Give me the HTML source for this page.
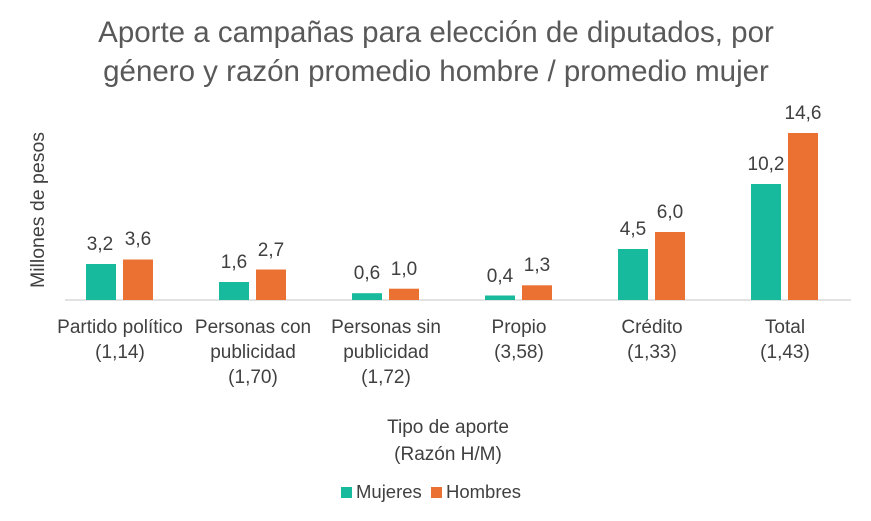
<!DOCTYPE html>
<html><head><meta charset="utf-8"><style>
body{margin:0;background:#fff}
svg text{font-family:"Liberation Sans",sans-serif;fill:#404040}
</style></head><body>
<svg width="871" height="516" xmlns="http://www.w3.org/2000/svg">
<text x="436" y="42" font-size="29.5" text-anchor="middle" style="fill:#595959">Aporte a campañas para elección de diputados, por</text>
<text x="436" y="81" font-size="29.5" text-anchor="middle" style="fill:#595959">género y razón promedio hombre / promedio mujer</text>
<text transform="translate(44,210) rotate(-90)" font-size="19.5" text-anchor="middle">Millones de pesos</text>
<line x1="65" y1="300" x2="851" y2="300" stroke="#d9d9d9" stroke-width="1.5"/>
<g font-size="19" text-anchor="middle">
<rect x="86" y="264" width="30" height="36" fill="#17BA9C"/><rect x="123" y="259.5" width="30" height="40.5" fill="#EB7132"/>
<text x="100" y="250">3,2</text><text x="138" y="245">3,6</text>
<rect x="219" y="282" width="30" height="18" fill="#17BA9C"/><rect x="256" y="269.5" width="30" height="30.5" fill="#EB7132"/>
<text x="234" y="268">1,6</text><text x="271" y="256">2,7</text>
<rect x="352" y="293.2" width="30" height="6.8" fill="#17BA9C"/><rect x="389" y="288.7" width="30" height="11.3" fill="#EB7132"/>
<text x="367" y="279">0,6</text><text x="404" y="275">1,0</text>
<rect x="485" y="295.5" width="30" height="4.5" fill="#17BA9C"/><rect x="522" y="285.3" width="30" height="14.7" fill="#EB7132"/>
<text x="500" y="282">0,4</text><text x="537" y="271">1,3</text>
<rect x="618" y="249" width="30" height="51" fill="#17BA9C"/><rect x="655" y="232" width="30" height="68" fill="#EB7132"/>
<text x="633" y="235">4,5</text><text x="670" y="218">6,0</text>
<rect x="751" y="184" width="30" height="116" fill="#17BA9C"/><rect x="788" y="133" width="30" height="167" fill="#EB7132"/>
<text x="766" y="170">10,2</text><text x="803" y="119">14,6</text>
</g>
<g font-size="19" text-anchor="middle">
<text x="120" y="333">Partido político</text><text x="120" y="358">(1,14)</text>
<text x="253" y="333">Personas con</text><text x="253" y="358">publicidad</text><text x="253" y="383">(1,70)</text>
<text x="386" y="333">Personas sin</text><text x="386" y="358">publicidad</text><text x="386" y="383">(1,72)</text>
<text x="519" y="333">Propio</text><text x="519" y="358">(3,58)</text>
<text x="652" y="333">Crédito</text><text x="652" y="358">(1,33)</text>
<text x="785" y="333">Total</text><text x="785" y="358">(1,43)</text>
<text x="448" y="433">Tipo de aporte</text><text x="448" y="460">(Razón H/M)</text>
</g>
<rect x="341" y="487" width="11" height="11" fill="#17BA9C"/>
<text x="356" y="498" font-size="18.5">Mujeres</text>
<rect x="431" y="487" width="11" height="11" fill="#EB7132"/>
<text x="446" y="498" font-size="18.5">Hombres</text>
</svg>
</body></html>
